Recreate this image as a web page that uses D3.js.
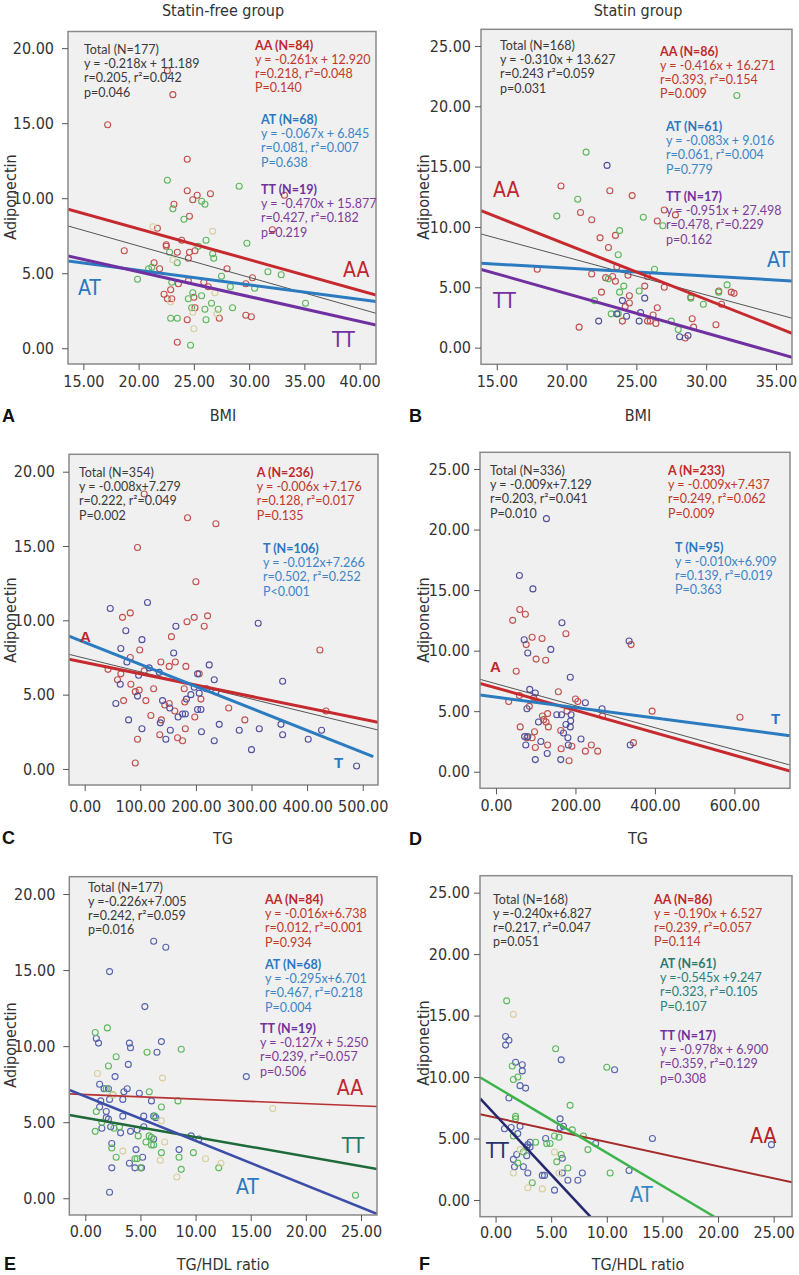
<!DOCTYPE html>
<html><head><meta charset="utf-8">
<script src="https://cdn.jsdelivr.net/npm/d3@7"></script>
<style>body{margin:0;background:#fff}svg{display:block}</style>
</head><body>
<svg id="c" width="799" height="1275"></svg>
<script>
// ---------- tick values ----------
const yTicks20 = [0, 5, 10, 15, 20];
const yTicks25 = [0, 5, 10, 15, 20, 25];
const xTicksA = [15, 20, 25, 30, 35, 40];
const xTicksB = [15, 20, 25, 30, 35];
const xTicksC = [0, 100, 200, 300, 400, 500];
const xTicksD = [0, 200, 400, 600];
const xTicksEF = [0, 5, 10, 15, 20, 25];

// ---------- Panel A: BMI, statin-free ----------
const a_red = [[17.2,14.9],[22.6,18.5],[23.1,16.9],[18.7,6.5],[21.4,5.7],[21.9,5.3],[21.7,8.0],[22.5,6.9],[22.5,6.8],[23.5,6.4],[23.9,7.2],[24.4,12.6],[24.4,10.5],[24.9,9.9],[25.3,10.2],[24.6,8.8],[26.5,10.3],[23.2,9.6],[25.1,6.5],[24.6,6.4],[24.5,6.0],[24.5,4.5],[22.3,3.6],[22.6,3.3],[23.0,3.3],[22.9,3.9],[25.0,3.4],[25.1,2.7],[23.6,4.3],[23.5,0.4],[24.4,1.9],[25.9,4.4],[26.3,4.1],[28.0,5.3],[29.7,4.3],[30.3,4.7],[29.7,2.2],[30.2,2.1],[27.3,2.0],[33.2,10.2],[32.1,7.9]];
const a_green = [[22.6,11.2],[29.1,10.8],[25.7,9.8],[26.0,9.6],[24.1,8.6],[23.1,9.3],[26.1,7.2],[26.7,6.3],[26.8,6.0],[29.8,7.0],[22.8,6.4],[23.5,5.7],[20.9,5.3],[21.2,5.4],[19.9,4.6],[23.0,4.4],[27.5,4.8],[28.3,4.1],[25.7,3.5],[24.9,3.7],[26.0,2.6],[26.1,1.9],[24.5,3.3],[24.8,2.7],[26.6,3.0],[27.2,2.6],[28.5,2.7],[22.9,2.0],[23.5,2.0],[31.7,5.1],[32.9,4.9],[30.5,4.0],[35.1,3.0],[24.7,0.2],[25.4,6.8]];
const a_tan = [[21.3,8.1],[26.7,7.8],[23.1,5.9],[26.9,3.7],[24.9,2.4],[27.1,2.3],[25.0,1.3],[22.9,3.1]];
const a_lineAA = [[13.61,9.27],[41.48,3.55]];
const a_lineTotal = [[13.61,8.15],[41.48,2.33]];
const a_lineAT = [[13.61,5.82],[41.48,3.11]];
const a_lineTT = [[13.61,6.15],[41.48,1.55]];
const a_txtTotal = ["Total (N=177)","y = -0.218x + 11.189","r=0.205, r²=0.042","p=0.046"];
const a_txtAA = ["AA (N=84)","y = -0.261x + 12.920","r=0.218, r²=0.048","P=0.140"];
const a_txtAT = ["AT (N=68)","y = -0.067x + 6.845","r=0.081, r²=0.007","P=0.638"];
const a_txtTT = ["TT (N=19)","y = -0.470x + 15.877","r=0.427, r²=0.182","p=0.219"];

// ---------- Panel B: BMI, statin ----------
const b_red = [[19.6,13.4],[23.1,13.0],[24.7,12.6],[21.0,11.2],[21.8,10.6],[22.4,9.1],[23.0,8.3],[23.5,9.3],[23.6,6.7],[17.9,6.5],[21.8,6.1],[22.8,5.8],[23.3,5.9],[24.4,6.0],[22.5,4.6],[23.5,5.5],[24.5,4.3],[24.5,3.7],[24.2,3.4],[24.0,2.2],[25.8,5.9],[25.6,5.1],[26.5,10.5],[27.0,11.4],[27.8,11.0],[27.0,5.0],[26.5,3.3],[26.2,2.7],[25.8,2.2],[26.0,2.2],[26.4,2.0],[28.5,0.8],[29.0,2.4],[29.1,1.7],[28.9,4.2],[31.1,3.6],[30.9,4.7],[31.8,4.6],[32.0,4.5],[30.7,1.9],[20.9,1.7]];
const b_green = [[21.4,16.2],[32.2,20.9],[19.3,10.9],[20.8,12.3],[23.8,9.7],[23.7,7.7],[25.5,10.8],[26.9,10.1],[26.3,6.5],[23.0,5.7],[24.1,5.1],[23.8,4.6],[22.0,3.9],[23.2,2.8],[23.7,2.8],[25.2,4.7],[27.5,2.2],[28.0,1.5],[28.9,4.1],[29.8,3.6],[30.9,4.6],[31.5,5.2]];
const b_navy = [[22.9,15.1],[24.0,3.9],[25.6,4.1],[22.3,2.2],[23.6,2.8],[24.3,2.6],[25.3,2.9],[25.2,2.2],[28.1,0.9],[28.7,1.0]];
const b_lineAA = [[13.87,11.35],[36.15,1.19]];
const b_lineTotal = [[13.87,9.42],[36.15,2.44]];
const b_lineAT = [[13.87,6.99],[36.15,5.53]];
const b_lineTT = [[13.87,6.49],[36.15,-0.8]];
const b_txtTotal = ["Total (N=168)","y = -0.310x + 13.627","r=0.243 r²=0.059","p=0.031"];
const b_txtAA = ["AA (N=86)","y = -0.416x + 16.271","r=0.393, r²=0.154","P=0.009"];
const b_txtAT = ["AT (N=61)","y = -0.083x + 9.016","r=0.061, r²=0.004","P=0.779"];
const b_txtTT = ["TT (N=17)","y = -0.951x + 27.498","r=0.478, r²=0.229","p=0.162"];

// ---------- Panel C: TG, statin-free ----------
const c_red = [[91,0.4],[95,2.0],[95,14.9],[107,18.5],[185,16.9],[236,16.5],[200,12.6],[197,10.2],[221,10.3],[184,9.9],[215,9.6],[82,10.5],[68,10.2],[156,8.9],[99,8.0],[82,7.5],[163,7.2],[137,7.2],[152,6.9],[182,6.9],[42,6.7],[65,6.4],[59,6.0],[83,5.7],[107,6.6],[124,5.4],[98,5.3],[91,5.2],[70,4.6],[110,4.6],[179,5.4],[206,6.4],[209,4.7],[180,4.5],[144,4.3],[152,4.4],[162,3.9],[119,3.6],[138,3.3],[198,3.5],[181,2.7],[135,2.3],[167,2.1],[176,1.9],[259,4.1],[288,3.3],[423,8.0],[434,3.9]];
const c_navy = [[46,10.8],[113,11.2],[74,9.3],[103,8.7],[164,9.6],[65,8.1],[76,7.2],[160,7.8],[116,6.8],[134,6.5],[97,6.3],[224,7.0],[203,6.4],[233,6.0],[64,5.7],[56,4.4],[95,4.9],[140,4.6],[153,4.1],[183,4.7],[191,5.0],[197,5.5],[206,5.1],[219,5.4],[236,5.2],[203,4.0],[209,4.0],[176,3.7],[181,3.7],[168,3.5],[79,3.3],[103,2.7],[136,3.1],[154,2.6],[146,2.0],[210,2.5],[233,1.9],[242,3.0],[278,2.6],[314,2.7],[300,1.3],[312,9.8],[356,5.9],[353,3.0],[356,2.3],[402,2.0],[426,2.6],[489,0.2]];
const c_lineT = [[-28.2,8.94],[519,0.83]];
const c_lineA = [[-28.2,7.38],[527.5,3.14]];
const c_lineTotal = [[-28.2,7.71],[527.5,2.62]];
const c_txtTotal = ["Total (N=354)","y = -0.008x+7.279","r=0.222, r²=0.049","P=0.002"];
const c_txtA = ["A (N=236)","y = -0.006x +7.176","r=0.128, r²=0.017","P=0.135"];
const c_txtT = ["T (N=106)","y = -0.012x+7.266","r=0.502, r²=0.252","P<0.001"];

// ---------- Panel D: TG, statin ----------
const d_red = [[42,12.5],[60,13.4],[74,13.0],[91,11.1],[116,11.0],[176,11.4],[76,10.5],[101,9.3],[125,9.2],[51,8.3],[157,6.6],[32,5.8],[59,6.3],[95,6.1],[84,5.4],[200,6.0],[206,5.8],[179,5.0],[117,4.6],[130,4.8],[120,4.3],[126,4.1],[132,3.7],[61,3.7],[97,3.3],[91,2.8],[78,2.8],[99,2.0],[130,2.2],[164,1.9],[191,2.1],[184,0.9],[225,1.7],[240,2.2],[256,1.7],[163,3.4],[268,4.6],[340,10.5],[346,2.4],[393,5.0],[614,4.5]];
const d_navy = [[127,20.9],[59,16.2],[93,15.1],[166,12.3],[71,10.9],[138,10.1],[80,9.8],[335,10.8],[187,7.8],[85,6.8],[99,6.5],[78,5.2],[225,5.7],[267,5.2],[153,4.7],[165,4.7],[189,4.7],[188,4.2],[107,4.1],[176,3.9],[170,3.2],[181,2.8],[187,3.7],[72,2.9],[80,2.9],[113,2.5],[75,2.2],[182,2.2],[214,2.7],[129,1.5],[99,1.0],[163,1.0],[338,2.2]];
const d_lineA = [[-40.2,7.3],[740,0.06]];
const d_lineTotal = [[-40.2,7.63],[740,0.55]];
const d_lineT = [[-40.2,6.33],[740,2.97]];
const d_txtTotal = ["Total (N=336)","y = -0.009x+7.129","r=0.203, r²=0.041","P=0.010"];
const d_txtA = ["A (N=233)","y = -0.009x+7.437","r=0.249, r²=0.062","P=0.009"];
const d_txtT = ["T (N=95)","y = -0.010x+6.909","r=0.139, r²=0.019","P=0.363"];

// ---------- Panel E: TG/HDL, statin-free ----------
const e_navy = [[6.2,16.9],[7.3,16.5],[2.2,14.9],[5.4,12.6],[1.0,10.5],[1.2,10.2],[4.0,10.2],[4.1,9.9],[6.9,10.3],[6.5,9.6],[3.9,8.8],[2.7,8.0],[1.3,7.5],[1.7,7.2],[2.1,7.2],[3.8,7.2],[3.5,7.0],[4.9,6.9],[2.2,6.5],[3.4,6.5],[6.0,6.4],[1.4,6.4],[1.3,6.0],[1.9,5.7],[1.9,5.3],[2.1,5.2],[3.4,5.4],[5.3,5.4],[6.2,5.4],[6.4,5.3],[1.5,4.6],[2.3,4.7],[3.2,4.3],[4.1,4.4],[4.7,4.5],[5.3,4.7],[6.2,3.9],[9.6,4.1],[10.3,3.9],[2.4,3.6],[4.6,3.2],[8.5,3.2],[5.2,2.7],[4.0,2.3],[4.5,2.0],[5.1,2.0],[2.4,2.0],[2.2,0.4],[14.6,8.0]];
const e_green = [[0.9,10.9],[2.0,11.2],[2.8,9.3],[5.6,9.6],[8.7,9.8],[2.1,8.7],[5.8,7.0],[8.4,6.4],[6.9,6.0],[1.9,7.2],[2.5,6.8],[1.0,5.7],[1.5,5.0],[2.6,4.6],[3.1,4.7],[0.9,4.4],[4.8,4.1],[5.8,4.1],[6.0,4.0],[5.5,3.7],[6.0,3.5],[6.2,3.5],[2.4,3.3],[2.8,2.7],[6.9,3.0],[9.8,3.0],[8.5,2.7],[4.5,2.6],[4.7,2.6],[5.0,2.0],[8.7,1.9],[12.1,2.0],[24.5,0.2],[6.3,5.4]];
const e_tan = [[1.1,8.2],[7.0,7.9],[2.5,6.8],[6.9,5.1],[3.4,3.1],[7.2,3.7],[6.8,2.5],[10.9,2.6],[12.3,2.3],[8.3,1.4],[17.0,5.9]];
const e_lineAA = [[-1.45,6.86],[26.45,6.03]];
const e_lineAT = [[-1.45,7.12],[26.45,-1.03]];
const e_lineTT = [[-1.45,5.48],[26.45,1.93]];
const e_txtTotal = ["Total (N=177)","y =-0.226x+7.005","r=0.242, r²=0.059","p=0.016"];
const e_txtAA = ["AA (N=84)","y = -0.016x+6.738","r=0.012, r²=0.001","P=0.934"];
const e_txtAT = ["AT (N=68)","y = -0.295x+6.701","r=0.467, r²=0.218","P=0.004"];
const e_txtTT = ["TT (N=19)","y = -0.127x + 5.250","r=0.239, r²=0.057","p=0.506"];

// ---------- Panel F: TG/HDL, statin ----------
const f_green = [[1.0,16.2],[5.4,12.3],[1.5,10.9],[1.6,9.8],[2.0,10.0],[10.0,10.8],[6.7,7.7],[1.8,6.8],[1.8,6.6],[6.9,5.7],[7.9,5.2],[5.3,5.2],[5.7,5.1],[1.6,5.2],[3.6,4.7],[4.6,4.6],[4.9,4.6],[8.3,4.1],[2.5,3.9],[5.9,3.7],[5.5,3.1],[2.0,3.0],[6.5,2.6],[3.3,1.4],[10.3,2.2]];
const f_navy = [[0.9,13.3],[1.2,13.0],[0.9,12.6],[5.9,11.4],[1.8,11.2],[2.4,11.0],[2.4,10.5],[10.7,10.6],[2.2,9.3],[2.7,9.1],[1.2,8.3],[0.8,5.8],[1.4,5.9],[2.2,6.0],[2.0,5.4],[3.1,4.7],[2.9,4.5],[2.8,4.3],[3.1,4.3],[4.5,5.0],[5.8,6.6],[6.1,6.0],[5.8,5.9],[9.0,4.6],[14.1,5.0],[24.8,4.5],[1.6,3.3],[1.9,3.7],[2.8,3.6],[1.7,2.7],[2.5,2.7],[2.9,2.2],[4.2,2.0],[4.4,2.0],[6.0,3.4],[6.0,2.2],[6.5,1.6],[7.4,1.6],[7.8,2.2],[5.3,0.8],[12.0,2.4]];
const f_tan = [[1.6,15.1],[2.2,4.1],[1.6,2.2],[2.9,1.0],[4.2,0.9],[5.3,3.9],[5.7,2.2]];
const f_lineAA = [[-1.4,6.97],[26.65,1.44]];
const f_lineAT = [[-1.4,9.98],[19.67,-1.36]];
const f_lineTT = [[-1.4,8.27],[8.52,-1.36]];
const f_txtTotal = ["Total (N=168)","y =-0.240x+6.827","r=0.217, r²=0.047","p=0.051"];
const f_txtAA = ["AA (N=86)","y = -0.190x + 6.527","r=0.239, r²=0.057","P=0.114"];
const f_txtAT = ["AT (N=61)","y =-0.545x +9.247","r=0.323, r²=0.105","P=0.107"];
const f_txtTT = ["TT (N=17)","y = -0.978x + 6.900","r=0.359, r²=0.129","p=0.308"];

// ---------- styles ----------
const C = {
  ptRed:"#c0504d", ptGreen:"#5cb85c", ptTan:"#d9cf9e", ptNavy:"#4f4f9f", ptBlue:"#5663ad",
  lnRed:"#c62a2f", lnBlue:"#2b7bc0", lnPurple:"#7030a0", lnGray:"#555555",
  txtDark:"#3a3a3a", txtRed:"#c0392b", txtBlue:"#3d85c6", txtPurple:"#7d3c98", txtTeal:"#2e7f7a"
};
const axisFont = "'Liberation Sans Narrow','DejaVu Sans Condensed',Arial,sans-serif";
const noteFont = "Lato, 'Open Sans', sans-serif";

const svg = d3.select("#c");

const panels = [
  { id:"A", box:[68,31.5,376,364], xd:[13.61,41.48], yd:[-1.05,21.11], xt:xTicksA, yt:yTicks20, yPad:8, xPad:17,
    pts:[[a_red,C.ptRed],[a_green,C.ptGreen],[a_tan,C.ptTan]],
    lines:[[a_lineTotal,C.lnGray,1],[a_lineAT,C.lnBlue,3],[a_lineTT,C.lnPurple,3],[a_lineAA,C.lnRed,3]],
    notes:[[a_txtTotal,84,54,C.txtDark,C.txtDark],[a_txtAA,255,49.5,C.txtRed,"#c0282d"],[a_txtAT,261,124,C.txtBlue,"#2a78c0"],[a_txtTT,261,194,C.txtPurple,"#7030a0"]],
    labels:[["AA",343,277,"#c0272d"],["AT",78,295,"#2a78c0"],["TT",332,347,"#7030a0"]], big:true },
  { id:"B", box:[481,29.3,792,364.3], xd:[13.87,36.15], yd:[-1.38,26.38], xt:xTicksB, yt:yTicks25, yPad:4, xPad:17,
    pts:[[b_red,C.ptRed],[b_green,C.ptGreen],[b_navy,C.ptNavy]],
    lines:[[b_lineTotal,C.lnGray,1],[b_lineAT,C.lnBlue,3],[b_lineTT,C.lnPurple,3],[b_lineAA,C.lnRed,3]],
    notes:[[b_txtTotal,500,50,C.txtDark,C.txtDark],[b_txtAA,660,55.5,C.txtRed,"#c0282d"],[b_txtAT,666,131,C.txtBlue,"#2a78c0"],[b_txtTT,666,201,C.txtPurple,"#7030a0"]],
    labels:[["AA",493,197,"#c0272d"],["AT",767,267,"#2a78c0"],["TT",493,308,"#7030a0"]], big:true },
  { id:"C", box:[69,454.3,378,785], xd:[-28.2,527.5], yd:[-1.08,21.17], xt:xTicksC, yt:yTicks20, yPad:8, xPad:21,
    pts:[[c_red,C.ptRed],[c_navy,C.ptNavy]],
    lines:[[c_lineTotal,C.lnGray,1],[c_lineA,C.lnRed,3],[c_lineT,C.lnBlue,3]],
    notes:[[c_txtTotal,79,477,C.txtDark,C.txtDark],[c_txtA,256.7,477,C.txtRed,"#c0282d"],[c_txtT,263,553,C.txtBlue,"#2a78c0"]],
    labels:[["A",80,641.7,"#c0272d"],["T",334,767.7,"#2a78c0"]], big:false },
  { id:"D", box:[480,452.3,790,788.3], xd:[-40.2,740], yd:[-1.37,26.38], xt:xTicksD, yt:yTicks25, yPad:4, xPad:17,
    pts:[[d_red,C.ptRed],[d_navy,C.ptNavy]],
    lines:[[d_lineTotal,C.lnGray,1],[d_lineA,C.lnRed,3],[d_lineT,C.lnBlue,3]],
    notes:[[d_txtTotal,490,475,C.txtDark,C.txtDark],[d_txtA,668,475,C.txtRed,"#c0282d"],[d_txtT,675,551.5,C.txtBlue,"#2a78c0"]],
    labels:[["A",490,671.7,"#c0272d"],["T",771,724,"#2a78c0"]], big:false },
  { id:"E", box:[69.3,876.7,377,1215], xd:[-1.45,26.45], yd:[-1.1,21.14], xt:xTicksEF, yt:yTicks20, yPad:8, xPad:16,
    pts:[[e_navy,C.ptBlue],[e_green,C.ptGreen],[e_tan,C.ptTan]],
    lines:[[e_lineAA,"#b83232",1.6],[e_lineTT,"#1e6a3a",2.5],[e_lineAT,"#3d4ea8",2.5]],
    notes:[[e_txtTotal,88,891.5,C.txtDark,C.txtDark],[e_txtAA,265,904,C.txtRed,"#c0282d"],[e_txtAT,265,969,C.txtBlue,"#2a78c0"],[e_txtTT,260,1033,C.txtPurple,"#7030a0"]],
    labels:[["AA",336.7,1095,"#c0272d"],["TT",341.7,1153.3,"#1f7a6a"],["AT",236,1194,"#2a78c0"]], big:true },
  { id:"F", box:[480,875.7,792,1216.7], xd:[-1.4,26.65], yd:[-1.36,26.38], xt:xTicksEF, yt:yTicks25, yPad:4, xPad:15,
    pts:[[f_navy,C.ptBlue],[f_green,C.ptGreen],[f_tan,C.ptTan]],
    lines:[[f_lineAA,"#a52a2a",2],[f_lineAT,"#3cb44b",2.5],[f_lineTT,"#25286e",2.5]],
    notes:[[f_txtTotal,493,903.5,C.txtDark,C.txtDark],[f_txtAA,654,903.5,C.txtRed,"#c0282d"],[f_txtAT,660,968,C.txtTeal,"#2a7a70"],[f_txtTT,660,1040,C.txtPurple,"#7030a0"]],
    labels:[["AA",750,1143.3,"#b22222"],["TT",486,1158.3,"#2b2f6e"],["AT",630,1202.3,"#3a87c8"]], big:true }
];

const fmt = d3.format(".2f");

panels.forEach(p => {
  const [x0,y0,x1,y1] = p.box;
  const x = d3.scaleLinear().domain(p.xd).range([x0,x1]);
  const y = d3.scaleLinear().domain(p.yd).range([y1,y0]);
  const g = svg.append("g");
  g.append("rect").attr("x",x0).attr("y",y0).attr("width",x1-x0).attr("height",y1-y0).attr("fill","#f0f0f0");
  svg.append("clipPath").attr("id","clip"+p.id).append("rect")
    .attr("x",x0).attr("y",y0).attr("width",x1-x0).attr("height",y1-y0);
  const plot = g.append("g").attr("clip-path","url(#clip"+p.id+")");
  p.pts.forEach(([arr,col]) => {
    plot.append("g").selectAll("circle").data(arr).enter().append("circle")
      .attr("cx",d=>x(d[0])).attr("cy",d=>y(d[1])).attr("r",3)
      .attr("fill","none").attr("stroke",col).attr("stroke-width",1.1);
  });
  const line = d3.line().x(d=>x(d[0])).y(d=>y(d[1]));
  p.lines.forEach(([arr,col,w]) => {
    plot.append("path").attr("d",line(arr)).attr("fill","none").attr("stroke",col).attr("stroke-width",w);
  });
  g.append("rect").attr("x",x0).attr("y",y0).attr("width",x1-x0).attr("height",y1-y0)
    .attr("fill","none").attr("stroke","#8a8a8a").attr("stroke-width",1.5);

  const ax = g.append("g").attr("transform",`translate(0,${y1})`)
    .call(d3.axisBottom(x).tickValues(p.xt).tickFormat(fmt).tickSize(6).tickPadding(6));
  const ay = g.append("g").attr("transform",`translate(${x0},0)`)
    .call(d3.axisLeft(y).tickValues(p.yt).tickFormat(fmt).tickSize(6).tickPadding(p.yPad));
  [ax,ay].forEach(a => {
    a.select(".domain").remove();
    a.selectAll(".tick line").attr("stroke","#555");
    a.selectAll(".tick text").attr("fill","#333").style("font-family",axisFont).style("font-size","16px");
  });
  ax.selectAll(".tick text").attr("dy",null).attr("y",p.xPad + 6).attr("dominant-baseline","auto");

  // annotation blocks
  p.notes.forEach(([lines,tx,ty,col,headCol]) => {
    const t = g.append("text").attr("x",tx).attr("y",ty)
      .style("font-family",noteFont).style("font-size","12.5px");
    lines.forEach((s,i) => {
      t.append("tspan").attr("x",tx).attr("y",ty + i*14.2).text(s)
        .attr("fill", i===0 ? headCol : col)
        .style("font-weight", (i===0 && col!==C.txtDark) ? "bold" : "normal");
    });
  });
  // group labels on lines
  p.labels.forEach(([s,lx,ly,col]) => {
    g.append("text").attr("x",lx).attr("y",ly).text(s).attr("fill",col)
      .style("font-family", p.big ? axisFont : "Arial, 'Liberation Sans', sans-serif")
      .style("font-size", p.big ? "21px" : "15px")
      .style("font-weight", p.big ? "normal" : "bold");
  });
});

// titles, axis labels, panel letters
const titles = [["Statin-free group",223,15.5],["Statin group",638,15.5]];
titles.forEach(([s,tx,ty]) => svg.append("text").attr("x",tx).attr("y",ty).attr("text-anchor","middle")
  .text(s).attr("fill","#333").style("font-family",axisFont).style("font-size","16px"));

const xLabels = [["BMI",223,421],["BMI",638,421],["TG",223,844],["TG",638,844],["TG/HDL ratio",223,1270],["TG/HDL ratio",638,1270]];
xLabels.forEach(([s,tx,ty]) => svg.append("text").attr("x",tx).attr("y",ty).attr("text-anchor","middle")
  .text(s).attr("fill","#333").style("font-family",axisFont).style("font-size","16px"));

const yLabels = [[16,197],[429,197],[16,620],[429,620],[16,1045],[429,1043]];
yLabels.forEach(([tx,ty]) => svg.append("text").attr("transform",`translate(${tx},${ty}) rotate(-90)`)
  .attr("text-anchor","middle").text("Adiponectin").attr("fill","#333")
  .style("font-family",axisFont).style("font-size","16px"));

const letters = [["A",2,422],["B",409,422],["C",2,844],["D",409,845],["E",4,1270],["F",419,1270]];
letters.forEach(([s,tx,ty]) => svg.append("text").attr("x",tx).attr("y",ty).text(s).attr("fill","#111")
  .style("font-family","Arial, 'Liberation Sans', sans-serif").style("font-size","18px").style("font-weight","bold"));
</script>
</body></html>
